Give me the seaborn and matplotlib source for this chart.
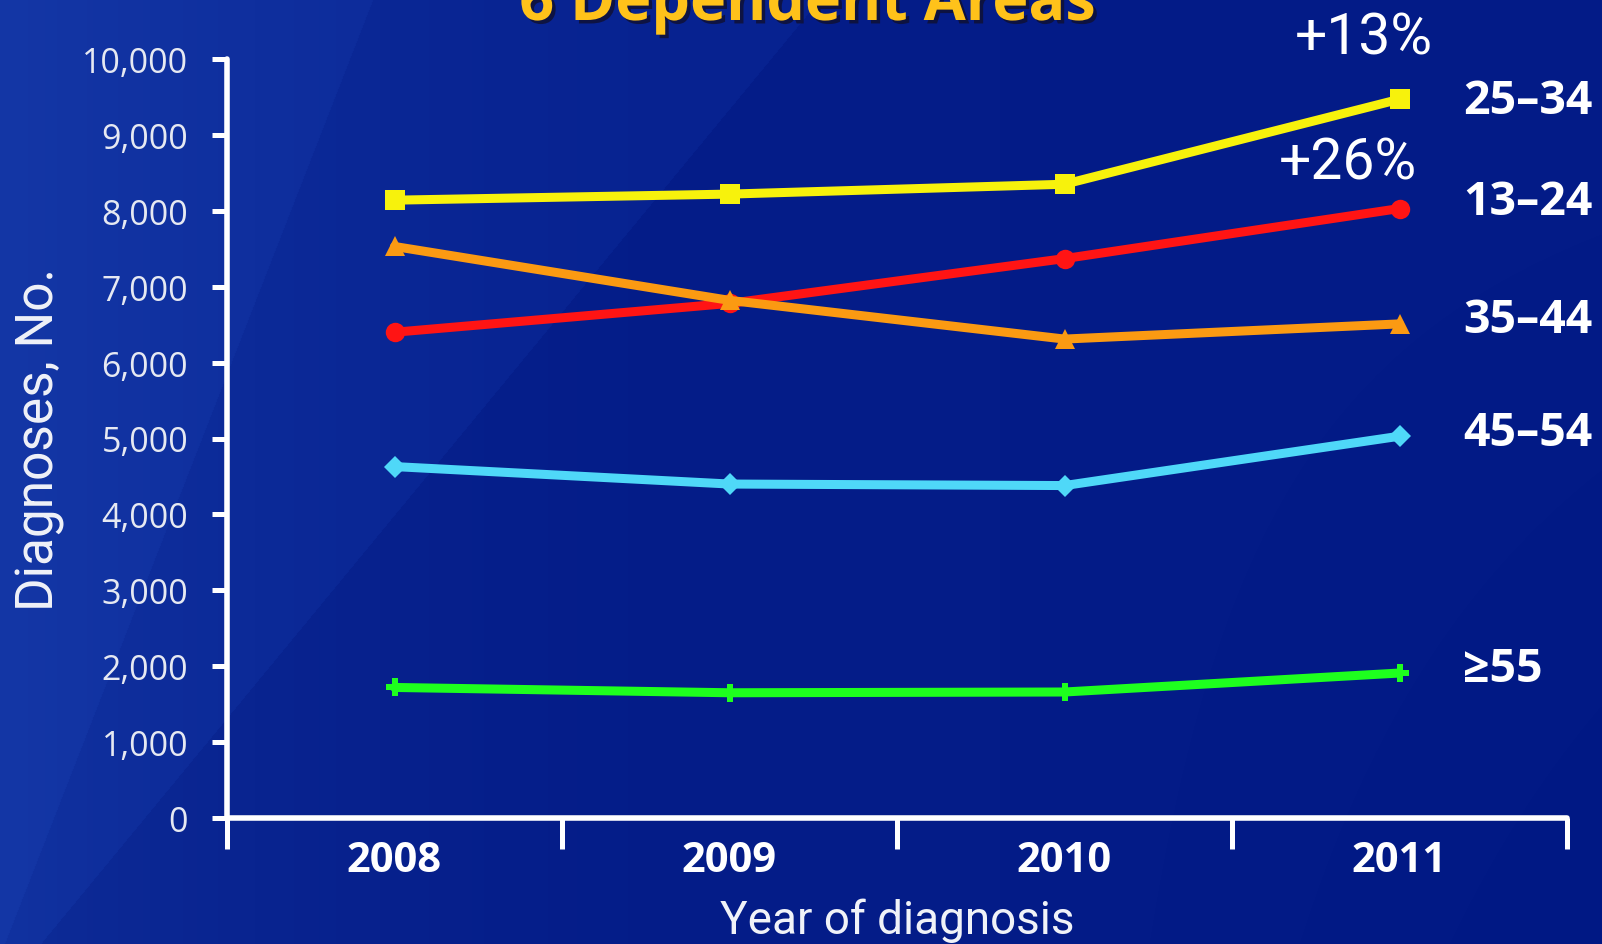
import numpy as np
import pandas as pd
import matplotlib
matplotlib.use("Agg")
import matplotlib.pyplot as plt
import matplotlib.patheffects as pe
import seaborn as sns

# Annual HIV diagnoses by age group
years = ["2008", "2009", "2010", "2011"]
age_groups = ["25\u201334", "13\u201324", "35\u201344", "45\u201354", "\u226555"]
vals_25_34 = [8140, 8220, 8350, 9470]
vals_13_24 = [6400, 6780, 7370, 8030]
vals_35_44 = [7530, 6820, 6310, 6510]
vals_45_54 = [4630, 4400, 4380, 5030]
vals_55_up = [1720, 1650, 1660, 1910]
series_vals = [vals_25_34, vals_13_24, vals_35_44, vals_45_54, vals_55_up]
change_labels = {"25\u201334": "+13%", "13\u201324": "+26%"}
y_ticks = list(range(0, 10001, 1000))

colors = {"25\u201334": "#f7f20c", "13\u201324": "#ff1414", "35\u201344": "#fb9a12",
          "45\u201354": "#4fd8f8", "\u226555": "#1eff1e"}
markers = {"25\u201334": "s", "13\u201324": "o", "35\u201344": "^",
           "45\u201354": "D", "\u226555": "P"}
msizes = {"25\u201334": 14, "13\u201324": 14, "35\u201344": 14, "45\u201354": 11.5, "\u226555": 12.5}
label_dy = {"25\u201334": -1, "13\u201324": 5, "35\u201344": 3, "45\u201354": 3, "\u226555": 3}

rows = []
for g, vals in zip(age_groups, series_vals):
    for i, (yr, v) in enumerate(zip(years, vals)):
        rows.append({"pos": i, "year": yr, "group": g, "count": v})
df = pd.DataFrame(rows)

sns.set_theme(style="white")
plt.rcParams["font.family"] = ["Open Sans", "DejaVu Sans"]

W, H = 1602, 945
fig = plt.figure(figsize=(W / 100, H / 100), dpi=100)

# slide-style blue backdrop with soft diagonal bands
bg = fig.add_axes([0, 0, 1, 1], zorder=-10)
yy, xx = np.mgrid[0:H, 0:W].astype(float)
dark = np.array([4, 28, 136], float)
light = np.array([14, 44, 152], float)
t = np.clip(1 - xx / 800.0, 0, 1) ** 1.8
img = dark[None, None, :] * (1 - t[..., None]) + light[None, None, :] * t[..., None]
band1 = (xx < 820 - 0.825 * yy).astype(float)
band2 = (xx < 373 - 0.39 * yy).astype(float)
img += band1[..., None] * np.array([3, 6, 8]) + band2[..., None] * np.array([3, 5, 6])
img[..., :] -= (np.clip((xx - 1000) / 600.0, 0, 1) * np.clip(yy / 945.0, 0, 1))[..., None] * 4
bg.imshow(np.clip(img, 0, 255).astype(np.uint8), aspect="auto", extent=[0, W, H, 0])
bg.axis("off")

ax = fig.add_axes([227 / W, 1 - 819 / H, (1567 - 227) / W, (819 - 60) / H])
ax.set_facecolor("none")

sns.lineplot(data=df, x="pos", y="count", hue="group", style="group",
             palette=colors, markers=markers, dashes=False, linewidth=6.5,
             markeredgewidth=0, legend=False, ax=ax, zorder=3)
for line, g in zip(ax.get_lines(), age_groups):
    line.set_markersize(msizes[g])

ax.set_xlim(-0.5, 3.5)
ax.set_ylim(0, 10000)

for s in ["top", "right"]:
    ax.spines[s].set_visible(False)
for s in ["left", "bottom"]:
    ax.spines[s].set_color("white")
    ax.spines[s].set_linewidth(4)
    ax.spines[s].set_capstyle("round")

# y axis
ax.set_yticks(y_ticks)
ax.set_yticklabels([f"{v:,}" for v in y_ticks])
ax.tick_params(axis="y", direction="out", length=11, width=3.6, color="white",
               labelcolor="#e6e9f2", labelsize=24.5, pad=17, left=True)

# x axis: boundary ticks, labels centred on categories
ax.set_xticks([-0.5, 0.5, 1.5, 2.5, 3.5])
ax.set_xticklabels([])
ax.tick_params(axis="x", which="major", direction="out", length=22, width=3.6,
               color="white", bottom=True)
ax.set_xticks(range(len(years)), minor=True)
ax.set_xticklabels(years, minor=True, fontweight="bold")
ax.tick_params(axis="x", which="minor", length=0, labelcolor="white",
               labelsize=30, pad=16)

ax.set_xlabel("Year of diagnosis", color="#f0f2f8", fontsize=33,
              family=["Roboto", "DejaVu Sans"], labelpad=12)
ax.set_ylabel("Diagnoses, No.", color="#f0f2f8", fontsize=37,
              family=["Roboto", "DejaVu Sans"], labelpad=12)

# group labels at line ends
for g, vals in zip(age_groups, series_vals):
    ax.annotate(g, xy=(3, vals[-1]), xytext=(46, label_dy[g]), textcoords="offset points",
                ha="left", va="center", color="white", fontsize=33.5,
                fontweight="bold", family=["Open Sans", "DejaVu Sans"],
                annotation_clip=False)

# percent change labels
offsets = {"25\u201334": (-26, 44), "13\u201324": (-37, 33)}
for g, vals in zip(age_groups, series_vals):
    if g in change_labels:
        dx, dy = offsets[g]
        ax.annotate(change_labels[g], xy=(3, vals[-1]), xytext=(dx, dy),
                    textcoords="offset points", ha="center", va="center",
                    color="white", fontsize=41, family=["Roboto", "DejaVu Sans"],
                    annotation_clip=False)

# slide title (partly beyond the top edge)
fig.text(0.5 * (535 + 1080) / W, 1 - 21 / H, "6 Dependent Areas",
         ha="center", va="baseline", color="#ffc21a", fontsize=44,
         fontweight="bold",
         path_effects=[pe.withSimplePatchShadow(offset=(2.5, -2.5),
                                                shadow_rgbFace="#101030", alpha=0.8)])

fig.savefig("out.png", dpi=100)
